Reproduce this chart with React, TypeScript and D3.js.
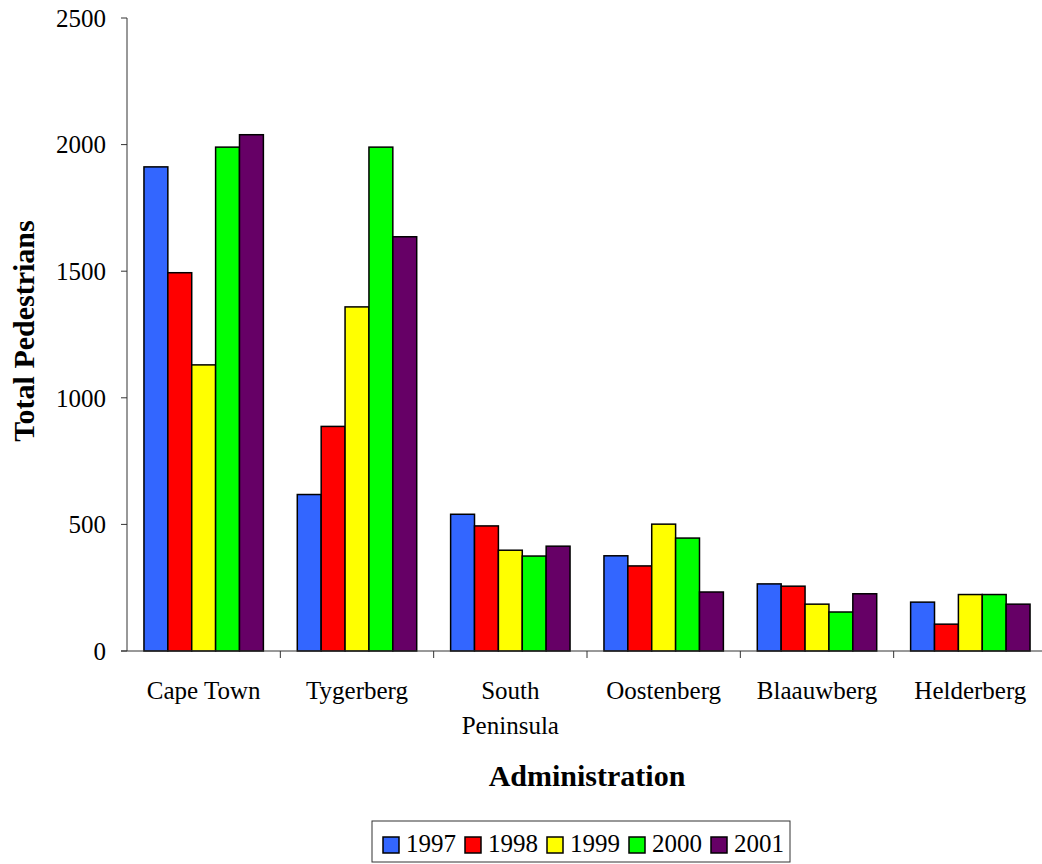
import React from "react";
import * as d3 from "d3";

const categories = ["Cape Town", "Tygerberg", "South Peninsula", "Oostenberg", "Blaauwberg", "Helderberg"];
const categoryLines = [["Cape Town"], ["Tygerberg"], ["South", "Peninsula"], ["Oostenberg"], ["Blaauwberg"], ["Helderberg"]];
const years = ["1997", "1998", "1999", "2000", "2001"];
const yearColors = ["#3366FF", "#FF0000", "#FFFF00", "#00FF00", "#660066"];

const values1997 = [1912, 618, 540, 376, 265, 193];
const values1998 = [1494, 887, 494, 336, 256, 106];
const values1999 = [1130, 1359, 398, 501, 185, 223];
const values2000 = [1990, 1990, 375, 446, 154, 223];
const values2001 = [2039, 1636, 414, 233, 226, 185];
const seriesValues = [values1997, values1998, values1999, values2000, values2001];

const yTicks = [0, 500, 1000, 1500, 2000, 2500];

const FONT = "'Liberation Serif', 'Times New Roman', serif";

const App: React.FC = () => {
  const width = 1042;
  const height = 864;
  const left = 127;
  const right = 1047;
  const top = 18;
  const bottom = 651;

  const x0 = d3.scaleBand<string>().domain(categories).range([left, right]).padding(0);
  const x1 = d3
    .scaleBand<string>()
    .domain(years)
    .range([0, x0.bandwidth()])
    .paddingInner(0)
    .paddingOuter(0.71);
  const y = d3.scaleLinear().domain([0, 2500]).range([bottom, top]);

  const color = d3.scaleOrdinal<string, string>().domain(years).range(yearColors);

  // legend layout
  const legendX = 372;
  const legendY = 821;
  const legendW = 418;
  const legendH = 41;
  const itemStep = 82;

  return (
    <svg
      width={width}
      height={height}
      style={{ position: "absolute", left: 0, top: 0, background: "#fff" }}
      fontFamily={FONT}
    >
      <rect x={0} y={0} width={width} height={height} fill="#fff" />

      {/* bars */}
      {categories.map((c, ci) => (
        <g key={c} transform={`translate(${x0(c)},0)`}>
          {years.map((yr, si) => {
            const v = seriesValues[si][ci];
            return (
              <rect
                key={yr}
                x={x1(yr)}
                y={y(v)}
                width={x1.bandwidth()}
                height={bottom - y(v)}
                fill={color(yr)}
                stroke="#000"
                strokeWidth={1.5}
              />
            );
          })}
        </g>
      ))}

      {/* y axis */}
      <line x1={left} x2={left} y1={top} y2={bottom} stroke="#333" strokeWidth={1} />
      {yTicks.map((t) => (
        <g key={t}>
          <line x1={left - 6} x2={left} y1={y(t)} y2={y(t)} stroke="#333" strokeWidth={1} />
          <text
            x={left - 21}
            y={y(t)}
            dy="0.35em"
            textAnchor="end"
            fontSize={25}
            fill="#000"
          >
            {t}
          </text>
        </g>
      ))}

      {/* x axis */}
      <line x1={left - 6} x2={right} y1={bottom} y2={bottom} stroke="#333" strokeWidth={1} />
      {categories.slice(1).map((c) => (
        <line
          key={c}
          x1={x0(c)}
          x2={x0(c)}
          y1={bottom}
          y2={bottom + 7}
          stroke="#333"
          strokeWidth={1}
        />
      ))}
      {categories.map((c, ci) => (
        <text
          key={c}
          x={(x0(c) as number) + x0.bandwidth() / 2}
          y={699}
          textAnchor="middle"
          fontSize={25}
          fill="#000"
        >
          {categoryLines[ci].map((line, li) => (
            <tspan key={li} x={(x0(c) as number) + x0.bandwidth() / 2} dy={li === 0 ? 0 : 35}>
              {line}
            </tspan>
          ))}
        </text>
      ))}

      {/* axis titles */}
      <text
        transform={`translate(34,331) rotate(-90)`}
        textAnchor="middle"
        fontSize={30}
        fontWeight="bold"
        fill="#000"
      >
        Total Pedestrians
      </text>
      <text x={(left + right) / 2} y={786} textAnchor="middle" fontSize={30} fontWeight="bold" fill="#000">
        Administration
      </text>

      {/* legend */}
      <rect x={legendX} y={legendY} width={legendW} height={legendH} fill="#fff" stroke="#333" strokeWidth={1} />
      {years.map((yr, i) => (
        <g key={yr} transform={`translate(${legendX + 11 + i * itemStep},${legendY + 16})`}>
          <rect x={0} y={0} width={16} height={16} fill={color(yr)} stroke="#000" strokeWidth={1.5} />
          <text x={23} y={15} fontSize={25} fill="#000">
            {yr}
          </text>
        </g>
      ))}
    </svg>
  );
};

export default App;
